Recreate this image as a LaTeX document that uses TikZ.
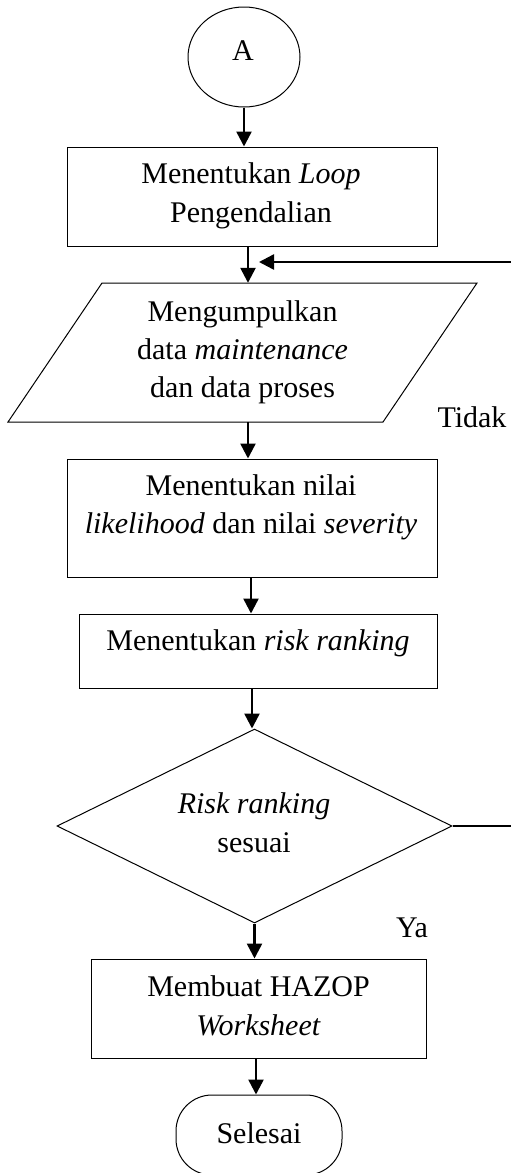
\documentclass[tikz,border=0pt]{standalone}
\usepackage{fontspec}
\setmainfont{Liberation Serif}
\usetikzlibrary{shapes.geometric,arrows.meta}
\begin{document}
\begin{tikzpicture}[x=1pt,y=-1pt,
  outline/.style={draw=black, line width=1pt},
  boxnode/.style={outline, rectangle, inner sep=0pt},
  txt/.style={anchor=base, inner sep=0pt, font=\fontsize{30}{36}\selectfont},
  flow/.style={line width=2.5pt, -{Triangle[length=15pt,width=15pt]}},
]
\clip (0,0) rectangle (511,1173);
\fill[white] (0,0) rectangle (511,1173);

% connector circle
\node[outline, ellipse, minimum width=112pt, minimum height=100pt, inner sep=0pt] (a) at (244,57) {};
\node[txt] (ta) at (243,60) {A};

% process: control loop
\node[boxnode, minimum width=370pt, minimum height=99pt] (b1) at (252,196.5) {};
\node[txt] (b1l1) at (251,183) {Menentukan \textit{Loop}};
\node[txt] (b1l2) at (251,222) {Pengendalian};

% input/output: data collection
\draw[outline, line join=miter] (102,283) -- (477,283) -- (383,422) -- (8,422) -- cycle;
\node[inner sep=0pt, minimum width=375pt, minimum height=139pt] (p) at (242.5,352.5) {};
\node[txt] (pl1) at (242.5,321) {Mengumpulkan};
\node[txt] (pl2) at (242.5,359) {data \textit{maintenance}};
\node[txt] (pl3) at (242.5,397) {dan data proses};
\node[txt] (tidak) at (472,427) {Tidak};

% process: likelihood and severity
\node[boxnode, minimum width=370pt, minimum height=118pt] (b2) at (252,518) {};
\node[txt] (b2l1) at (251,495) {Menentukan nilai};
\node[txt] (b2l2) at (251,533) {\textit{likelihood} dan nilai \textit{severity}};

% process: risk ranking
\node[boxnode, minimum width=358pt, minimum height=74pt] (b3) at (258,651) {};
\node[txt] (b3l1) at (258,650) {Menentukan \textit{risk ranking}};

% decision
\node[outline, diamond, minimum width=395pt, minimum height=194pt, inner sep=0pt] (d) at (254.5,826) {};
\node[txt] (dl1) at (254,813) {\textit{Risk ranking}};
\node[txt] (dl2) at (254,852) {sesuai};
\node[txt] (ya) at (412,937) {Ya};

% process: HAZOP worksheet
\node[boxnode, minimum width=335pt, minimum height=99pt] (b4) at (258.5,1008.5) {};
\node[txt] (b4l1) at (258.5,996) {Membuat HAZOP};
\node[txt] (b4l2) at (258.5,1035) {\textit{Worksheet}};

% terminator
\node[boxnode, rounded corners=36pt, minimum width=166pt, minimum height=80pt] (e) at (259,1135) {};
\node[txt] (el1) at (259,1143) {Selesai};

% main flow
\draw[flow] (a.south) -- (a.south |- b1.north);
\draw[flow] ([xshift=-4pt]b1.south) -- ([xshift=-4pt]b1.south |- p.north);
\draw[flow] ([xshift=5.5pt]p.south) -- ([xshift=5.5pt]p.south |- b2.north);
\draw[flow] ([xshift=-1pt]b2.south) -- ([xshift=-1pt]b2.south |- b3.north);
\draw[flow] ([xshift=-6pt]b3.south) -- ([xshift=-6pt]b3.south |- d.north);
\draw[flow] (d.south) -- (d.south |- b4.north);
\draw[flow] ([xshift=-2.5pt]b4.south) -- ([xshift=-2.5pt]b4.south |- e.north);

% "Tidak" branch back to data collection
\coordinate (fb) at (259,262);
\draw[flow] (d.east) -- ++(90,0) |- (fb);
\end{tikzpicture}
\end{document}
